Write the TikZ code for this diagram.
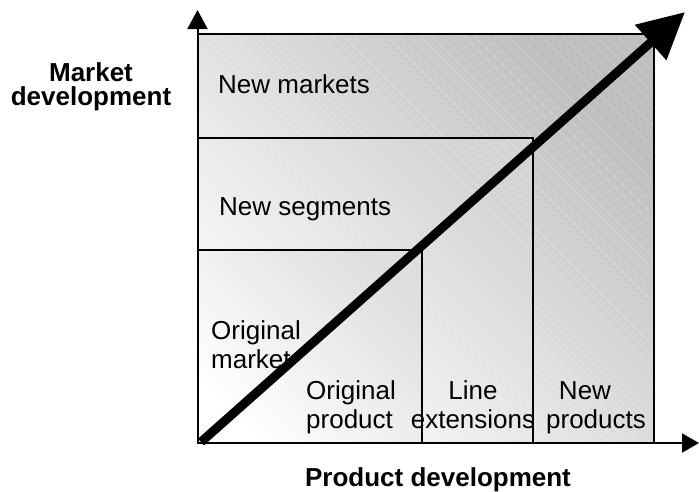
\documentclass[tikz,border=0pt]{standalone}
\usepackage{fontspec}
\setmainfont{Liberation Sans}
\usetikzlibrary{arrows.meta}
\definecolor{boxA1}{HTML}{FFFFFF}
\definecolor{boxA3}{HTML}{BEBEBE}
\definecolor{boxB1}{HTML}{FFFFFF}
\definecolor{boxB3}{HTML}{D4D4D4}
\definecolor{boxC1}{HTML}{FFFFFF}
\definecolor{boxC3}{HTML}{DEDEDE}
\tikzset{
  cell/.style={draw=black, line width=1.6pt},
  hatch/.style={white, opacity=0.28, line width=0.6pt},
  axis/.style={line width=2pt, -{Triangle[length=19pt,width=20pt]}},
  bigarrow/.style={line width=9pt, -{Triangle[length=46pt,width=45pt]}},
  lbl/.style={font=\fontsize{26}{29}\selectfont, inner sep=0pt},
  axlbl/.style={font=\fontsize{26}{23.5}\selectfont\bfseries, inner sep=0pt, align=center},
}
\begin{document}
\begin{tikzpicture}[x=1pt,y=-1pt]
\useasboundingbox (0,0) rectangle (699,491);
% outer cell
\shade[top color=boxA3, bottom color=boxA1, shading angle=-45] (198,34) rectangle (654,443);
\begin{scope}
  \clip (198,34) rectangle (654,443);
  \foreach \i in {-264,-253,...,660} \draw[hatch] (\i,34) -- ++(420,420);
\end{scope}
\draw[cell] (198,34) rectangle (654,443);
% middle cell
\shade[top color=boxB3, bottom color=boxB1, shading angle=-45] (198,138) rectangle (533,443);
\begin{scope}
  \clip (198,138) rectangle (533,443);
  \foreach \i in {-132,-121,...,540} \draw[hatch] (\i,138) -- ++(320,320);
\end{scope}
\draw[cell] (198,138) rectangle (533,443);
% inner cell
\shade[top color=boxC3, bottom color=boxC1, shading angle=-45] (198,250) rectangle (422,443);
\begin{scope}
  \clip (198,250) rectangle (422,443);
  \foreach \i in {0,11,...,430} \draw[hatch, opacity=0.2] (\i,250) -- ++(200,200);
\end{scope}
\draw[cell] (198,250) rectangle (422,443);
% axes
\coordinate (o) at (197.5,443);
\coordinate (ytip) at (197.5,10);
\coordinate (xtip) at (699,443);
\draw[axis] (o) -- (ytip);
\draw[axis, -{Triangle[length=17pt,width=19pt]}] (o) -- (xtip);
% texts (multi-line nodes: base = baseline of last line)
\node[lbl, anchor=base west] (nm) at (218,93) {New markets};
\node[lbl, anchor=base west] (ns) at (219,215) {New segments};
\node[lbl, anchor=base west, align=left] (om) at (211,368) {Original\\market};
\node[lbl, anchor=base west, align=left] (op) at (306,428) {Original\\product};
\node[lbl, anchor=base, align=center] (le) at (473,428) {Line\\extensions};
\node[lbl, anchor=base, align=center] (np) at (596,428) {New\rule{22pt}{0pt}\\products};
\node[axlbl, anchor=base] (md) at (91,105) {Market\\development};
\node[axlbl, anchor=base] (pd) at (438,486) {Product development};
% big arrow
\coordinate (as) at (201,442);
\coordinate (at) at (685,12);
\draw[bigarrow] (as) -- (at);
\end{tikzpicture}
\end{document}
